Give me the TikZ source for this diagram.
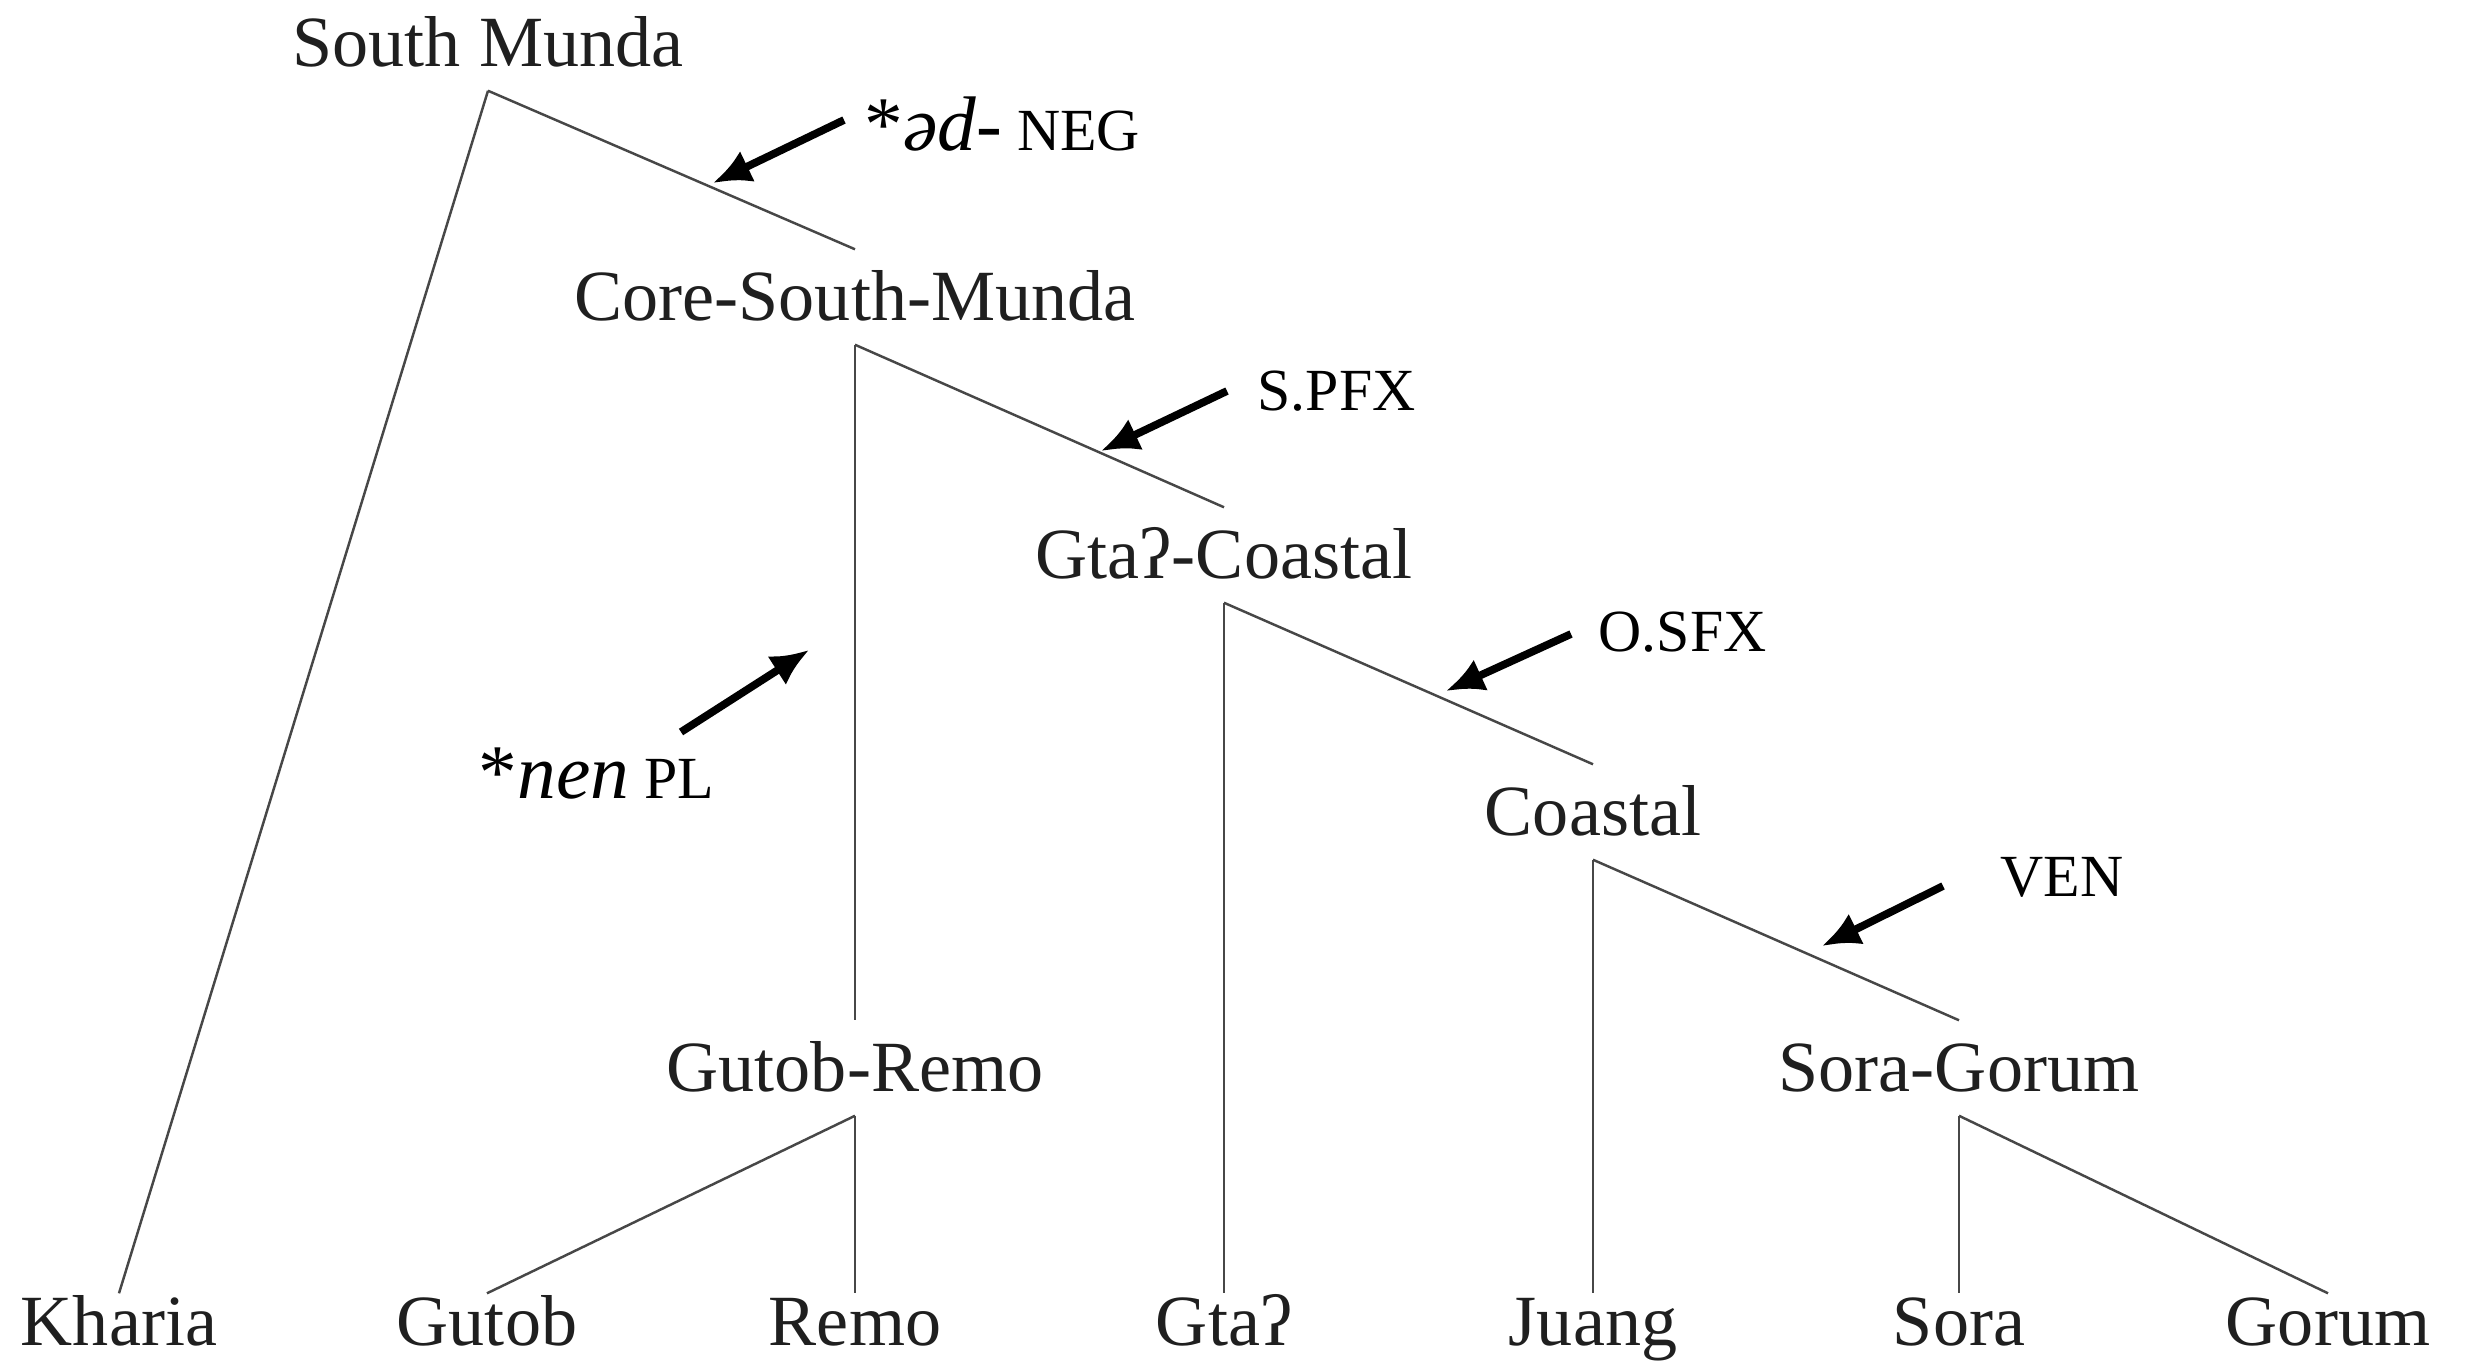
\documentclass[tikz,border=0pt]{standalone}
\usepackage{fontspec}
\setmainfont{Liberation Serif}
\usetikzlibrary{arrows.meta}
\begin{document}
\begin{tikzpicture}[x=0.01cm,y=-0.01cm,
  lang/.style={font=\fontsize{20.5}{24}\selectfont, text=black!88, inner xsep=0pt, text height=4.7mm, text depth=0pt},
  inode/.style={lang, inner ysep=2.35mm},
  leaf/.style={lang, inner ysep=0.45mm},
  edge/.style={line width=0.7pt, draw=black!72},
  chg/.style={line width=2.2pt, -{Latex[length=3.8mm,width=3.4mm]}},
  lbl/.style={anchor=base west, inner sep=0pt, font=\fontsize{17}{20}\selectfont}
]
\useasboundingbox (0,0) rectangle (2473,1366);
% internal nodes
\node[inode] (sm)  at (488,43)   {South Munda};
\node[inode] (csm) at (855,297)  {Core-South-Munda};
\node[inode] (gc)  at (1224,555) {Gtaʔ-Coastal};
\node[inode] (co)  at (1593,812) {Coastal};
\node[inode] (gr)  at (855,1068) {Gutob-Remo};
\node[inode] (sg)  at (1959,1068){Sora-Gorum};
% leaves
\node[leaf] (kh) at (119,1322)  {Kharia};
\node[leaf] (gu) at (487,1322)  {Gutob};
\node[leaf] (re) at (855,1322)  {Remo};
\node[leaf] (gt) at (1224,1322) {Gtaʔ};
\node[leaf] (ju) at (1593,1322) {Juang};
\node[leaf] (so) at (1959,1322) {Sora};
\node[leaf] (go) at (2328,1322) {Gorum};
% edges
\draw[edge] (sm.south) -- (kh.north);
\draw[edge] (sm.south) -- (csm.north);
\draw[edge] (csm.south) -- (gr.north);
\draw[edge] (csm.south) -- (gc.north);
\draw[edge] (gc.south) -- (gt.north);
\draw[edge] (gc.south) -- (co.north);
\draw[edge] (co.south) -- (ju.north);
\draw[edge] (co.south) -- (sg.north);
\draw[edge] (gr.south) -- (gu.north);
\draw[edge] (gr.south) -- (re.north);
\draw[edge] (sg.south) -- (so.north);
\draw[edge] (sg.south) -- (go.north);
% change labels
\node[lbl] (l1) at (864,150)  {{\fontsize{22}{24}\selectfont *\textit{əd-}} NEG};
\node[lbl] (l2) at (1257,410) {S.PFX};
\node[lbl] (l3) at (478,798)  {{\fontsize{22}{24}\selectfont *\textit{nen}} PL};
\node[lbl] (l4) at (1598,651) {O.SFX};
\node[lbl] (l5) at (2000,896) {VEN};
% arrows
\coordinate (t1) at (844,120);  \coordinate (h1) at (713,183);
\coordinate (t2) at (1227,391); \coordinate (h2) at (1101,451);
\coordinate (t3) at (681,732);  \coordinate (h3) at (809,650);
\coordinate (t4) at (1571,634); \coordinate (h4) at (1446,691);
\coordinate (t5) at (1943,886); \coordinate (h5) at (1822,946);
\draw[chg] (t1) -- (h1);
\draw[chg] (t2) -- (h2);
\draw[chg] (t3) -- (h3);
\draw[chg] (t4) -- (h4);
\draw[chg] (t5) -- (h5);
\end{tikzpicture}
\end{document}
